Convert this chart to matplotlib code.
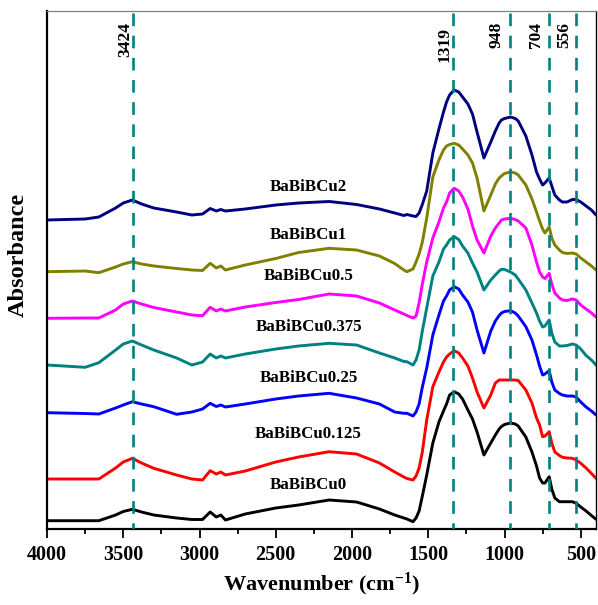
import matplotlib
matplotlib.use("Agg")
import matplotlib.pyplot as plt
from matplotlib.ticker import MultipleLocator

plt.rcParams['font.family'] = ['Liberation Serif', 'DejaVu Serif']
plt.rcParams['font.weight'] = 'bold'
plt.rcParams['mathtext.fontset'] = 'custom'
plt.rcParams['mathtext.rm'] = 'Liberation Serif:bold'
plt.rcParams['mathtext.bf'] = 'Liberation Serif:bold'
plt.rcParams['mathtext.it'] = 'Liberation Serif:bold'

# ---------------- data ----------------
wavenumber = [4000, 3750, 3660, 3550, 3500, 3440, 3380, 3300, 3150, 3050, 2980,
              2930, 2890, 2860, 2830, 2700, 2500, 2350, 2150, 1970, 1820,
              1720, 1660, 1640, 1600, 1580, 1560, 1540, 1510, 1470, 1430, 1400,
              1380, 1360, 1330, 1300, 1275, 1240, 1210, 1180, 1135, 1090, 1060, 1035,
              1020, 1000, 960, 930, 910, 860, 820, 790, 770, 750, 735, 707,
              690, 670, 640, 620, 590, 555, 530, 500, 465, 430, 400]

cu2 = [310, 311, 313, 322, 327, 330, 326, 322, 318, 315, 316,
       321.5, 319, 320.5, 319, 321, 325, 327, 328.5, 325.5, 321,
       317, 314.5, 315.5, 314, 313.5, 317, 325, 339, 377, 401, 418,
       428, 435, 440, 438, 433, 426, 416, 398, 372, 388, 399, 407,
       410, 411.5, 413, 411.5, 409, 394, 375, 358, 351, 345, 347, 352,
       344, 335, 330, 328, 328, 330.5, 330.5, 328, 324, 320, 315]

cu1 = [258.3, 259, 257.3, 263, 266, 268.3, 266, 264, 261.5, 260, 259.5,
       266.7, 262, 264, 260, 265, 271.5, 277.5, 281.7, 280, 274,
       266.5, 260, 258.3, 261, 268, 276, 287, 312, 353, 370, 380,
       384, 385.5, 386.7, 385, 381, 375, 367, 352, 319, 335, 346, 352,
       354, 356.5, 358, 357, 355, 345, 331, 318, 309, 301, 297, 303,
       292, 285, 280, 277.5, 276.5, 277, 276, 272, 268, 264, 260]

cu05 = [211.7, 212, 212, 220, 226, 229, 226, 222.5, 218, 215, 214.3,
        222.7, 219, 221, 219, 223, 227.5, 230.5, 236, 234, 227,
        220, 216, 214.5, 212, 214, 227, 245, 268, 292, 308, 322,
        328, 337, 341.7, 339, 333, 321, 304, 290, 277, 294, 302, 307,
        310, 311, 311.7, 310.5, 309, 302, 285, 268, 258, 253, 251.5, 256.7,
        246, 237, 232, 230, 229.5, 231, 230, 225, 221, 217, 213]

cu0375 = [165, 162.7, 167.3, 180, 186, 189, 185, 180, 172, 165, 168,
          176, 172, 174, 172, 176, 181, 184, 186.7, 185, 177,
          172, 168.5, 168.3, 165, 170, 180, 198, 222, 254, 268, 281,
          285, 290, 293.3, 290.5, 284, 277, 267, 258, 240, 250, 255, 259,
          260.7, 260.5, 258, 255, 251, 240, 227, 217, 209, 203, 204, 210,
          197, 188, 184, 184, 184.5, 186, 185, 181, 174.5, 170, 165]

cu025 = [117.3, 116.5, 116, 122, 125, 128.3, 126, 123.3, 115.7, 118, 121,
         126.7, 123.5, 125, 123, 126, 131, 134, 136.7, 132, 126,
         118, 116.7, 116.7, 114, 118, 126, 142, 162, 195, 215, 229,
         234, 240, 243.3, 241, 235, 228, 218, 200, 177, 199, 209, 214.5,
         217, 218.5, 219.3, 217, 214, 203.3, 190, 175, 164, 155, 156, 159.3,
         148, 140, 136.5, 135, 134, 134, 133, 128, 123, 119, 115]

cu0125 = [51, 51, 51, 62, 68, 71.7, 67, 61.7, 55, 51, 50,
          59.3, 56, 58, 55, 59, 68, 73, 78.3, 76, 67,
          58, 53, 51.5, 50, 54, 62, 77, 110, 143.3, 158, 168,
          173, 176, 179.3, 177, 172, 164, 152, 138, 122, 135, 147, 150,
          150, 150, 150, 150, 149.5, 140, 127, 112, 105, 93.3, 94, 98.3,
          87, 78, 74.5, 72.7, 72, 71.7, 70, 66.7, 62, 56.5, 51.7]

cu0 = [9.3, 9.3, 9.3, 15, 18.5, 20.7, 18, 15, 12, 10.5, 10.5,
       18, 13, 15, 10, 16, 22, 25, 30, 28, 21,
       15, 12, 11, 8.3, 12, 19, 33, 55, 87, 108, 119,
       126, 135, 138.3, 136, 131, 120, 111, 98, 75, 87, 95, 101,
       103.5, 105.5, 107, 106, 104, 93, 78, 64, 52, 47, 47, 53.3,
       41, 32, 28.3, 28.3, 28.3, 28.3, 26.7, 23, 19, 14.5, 10.7]

series_names = ['BaBiBCu2', 'BaBiBCu1', 'BaBiBCu0.5', 'BaBiBCu0.375',
                'BaBiBCu0.25', 'BaBiBCu0.125', 'BaBiBCu0']
series_values = [cu2, cu1, cu05, cu0375, cu025, cu0125, cu0]
series_colors = ['#000080', '#808000', '#FF00FF', '#008080',
                 '#0000FF', '#FF0000', '#000000']

peak_positions = [3435, 1340, 965, 707, 529]
peak_labels = ['3424', '1319', '948', '704', '556']

x_ticks = [4000, 3500, 3000, 2500, 2000, 1500, 1000, 500]

# ---------------- layout ----------------
label_x = 2285
label_y = [343, 295, 254, 203, 151.5, 96.5, 45]
peak_label_dx = [-7.5, -8, -13, -13, -12]   # pixels
peak_label_top = [21.7, 26.7, 21.7, 21.7, 21.7]  # pixels from top of figure

W, H = 598, 605
fig = plt.figure(figsize=(W / 100, H / 100), dpi=100)
ax_l, ax_r, ax_t, ax_b = 47, 596, 11, 529
ax = fig.add_axes([ax_l / W, 1 - ax_b / H, (ax_r - ax_l) / W, (ax_b - ax_t) / H])

for vals, col in zip(series_values, series_colors):
    ax.plot(wavenumber, vals, color=col, lw=2.1, solid_joinstyle='round',
            solid_capstyle='round', zorder=2)

YMIN, YMAX = 1, 519
for pos in peak_positions:
    ax.plot([pos, pos], [YMAX - 2, YMIN], color='#008080', lw=1.9,
            linestyle=(0, (4.8, 3.6)), zorder=3)

for pos, lab, dx, top in zip(peak_positions, peak_labels, peak_label_dx, peak_label_top):
    ax.annotate(lab, xy=(pos, 1.0), xycoords=('data', 'axes fraction'),
                xytext=(dx, -(top - ax_t)), textcoords='offset pixels',
                rotation=90, ha='center', va='top', fontsize=12.5,
                fontweight='bold', zorder=4)

for name, ly in zip(series_names, label_y):
    ax.text(label_x, ly, name, ha='center', va='center', fontsize=12.2,
            fontweight='bold', zorder=4)

ax.set_xlim(4000, 400)
ax.set_ylim(YMIN, YMAX)
ax.set_xticks(x_ticks)
ax.set_xticklabels([str(t) for t in x_ticks])
ax.xaxis.set_minor_locator(MultipleLocator(250))
ax.set_yticks([])
ax.tick_params(axis='x', which='major', direction='out', length=6.5, width=1.3,
               labelsize=14.5, pad=5)
ax.tick_params(axis='x', which='minor', direction='out', length=3.8, width=1.3)
for lbl in ax.get_xticklabels():
    lbl.set_fontweight('bold')

ax.spines['left'].set_linewidth(1.6)
ax.spines['bottom'].set_linewidth(1.6)
ax.spines['right'].set_linewidth(1.0)
ax.spines['top'].set_linewidth(0.9)
ax.spines['top'].set_color('#808080')

ax.set_xlabel(r'Wavenumber (cm$^{\mathbf{-1}}$)', fontsize=16, fontweight='bold',
              labelpad=4)
fig.text(18 / W, 1 - 255 / H, 'Absorbance', rotation=90, ha='center', va='center',
         fontsize=17.5, fontweight='bold')

fig.savefig('out.png', dpi=100)
